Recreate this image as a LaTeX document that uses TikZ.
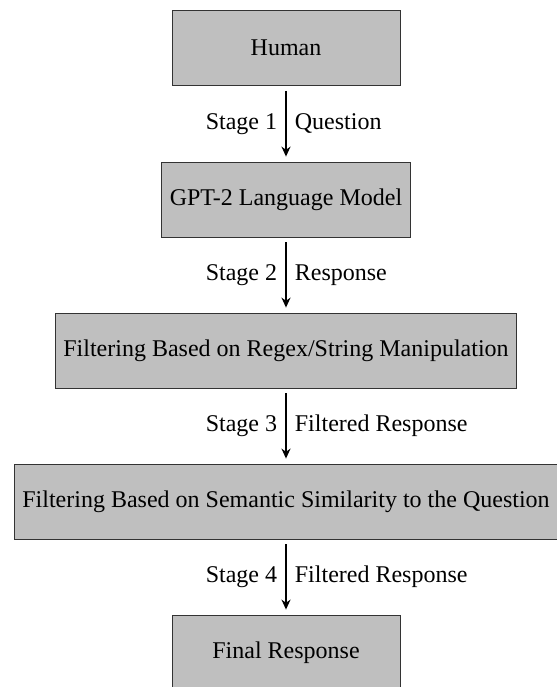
\documentclass[tikz,border=0pt]{standalone}
\usepackage{fontspec}
\setmainfont{Liberation Serif}
\usetikzlibrary{arrows.meta}

\tikzset{
  stagebox/.style={draw=black!80, fill=black!25, minimum width=114pt, minimum height=37.5pt,
    inner sep=4pt, font=\fontsize{12pt}{14pt}\selectfont},
  stagelabel/.style={inner sep=4pt, font=\fontsize{12pt}{14pt}\selectfont},
  flow/.style={-{Stealth[length=5pt, width=4.5pt]}, line width=0.9pt, shorten <=2.5pt, shorten >=2.5pt}
}

\begin{document}
\begin{tikzpicture}[x=0.5pt, y=-0.5pt]

  \useasboundingbox (0, 0) rectangle (557, 687);

  \node[stagebox] (human) at (286, 48) {Human};
  \node[stagebox] (gpt) at (286, 199.5) {GPT-2 Language Model};
  \node[stagebox] (regex) at (286, 350.5) {Filtering Based on Regex/String Manipulation};
  \node[stagebox] (semantic) at (286, 501.5) {Filtering Based on Semantic Similarity to the Question};
  \node[stagebox] (final) at (286, 652.5) {Final Response};

  \draw[flow] (human) -- node[stagelabel, left] {Stage 1} node[stagelabel, right] {Question} (gpt);
  \draw[flow] (gpt) -- node[stagelabel, left] {Stage 2} node[stagelabel, right] {Response} (regex);
  \draw[flow] (regex) -- node[stagelabel, left] {Stage 3} node[stagelabel, right] {Filtered Response} (semantic);
  \draw[flow] (semantic) -- node[stagelabel, left] {Stage 4} node[stagelabel, right] {Filtered Response} (final);

\end{tikzpicture}
\end{document}
